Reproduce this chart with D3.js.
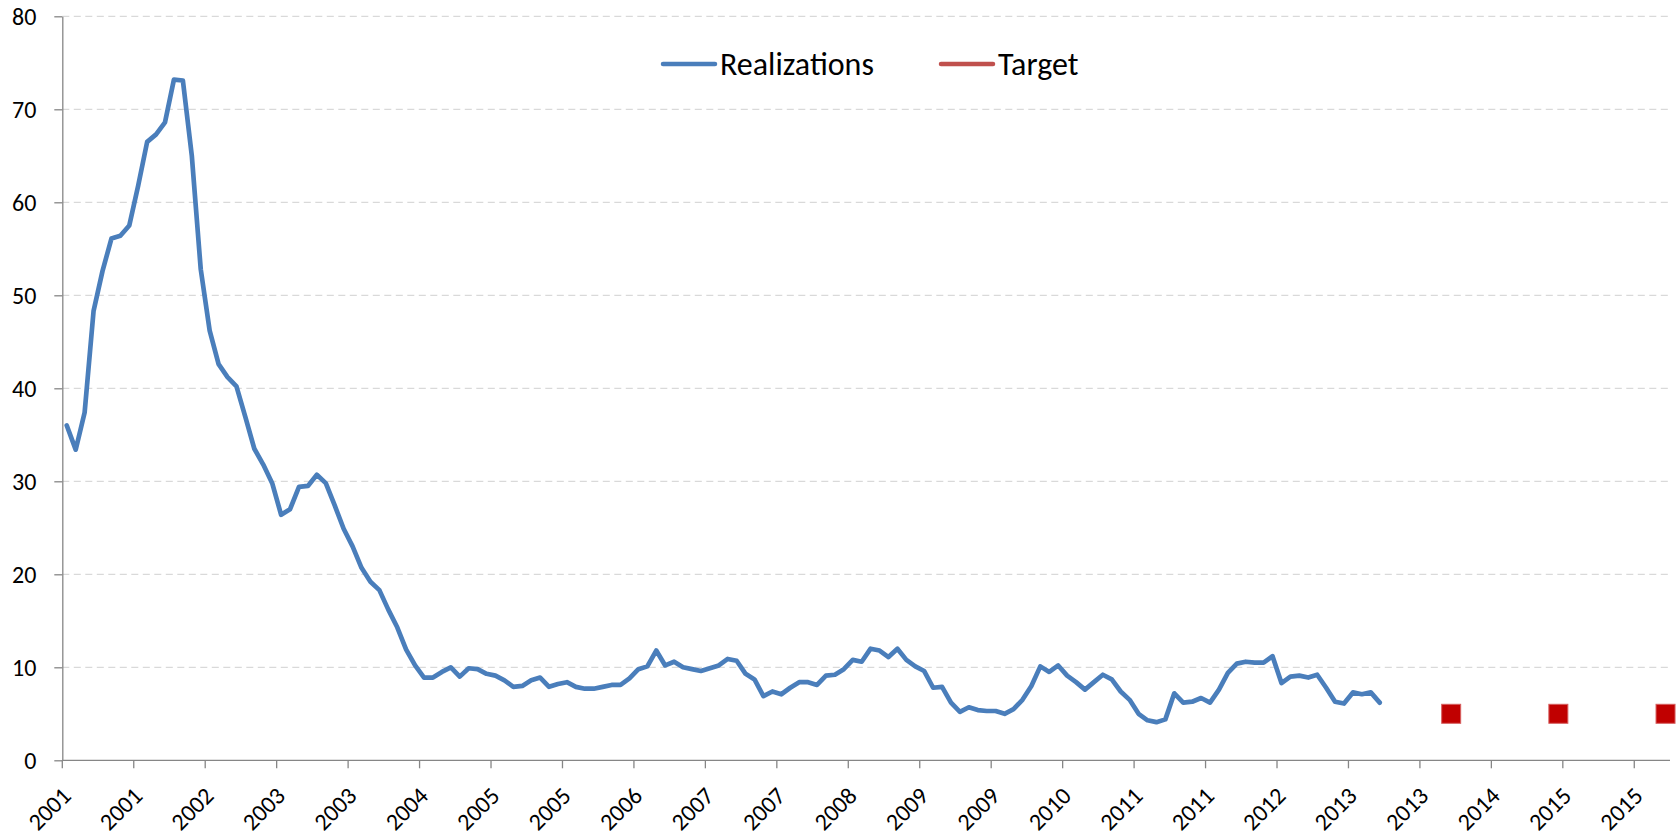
<!DOCTYPE html>
<html>
<head>
<meta charset="utf-8">
<script src="https://cdn.jsdelivr.net/npm/d3@7"></script>
<style>
  body { margin: 0; background: #fff; }
  svg, svg text { font-family: Calibri, Carlito, Lato, sans-serif; }
</style>
</head>
<body>
<div class="chart"></div>
<script>
// monthly realizations, Jan 2001 .. Apr 2013
let realizations = [
  36.0, 33.4, 37.4, 48.3, 52.6, 56.1, 56.4, 57.5, 61.8, 66.5, 67.3, 68.6,
  73.2, 73.1, 65.0, 52.8, 46.2, 42.6, 41.2, 40.2, 36.9, 33.5, 31.8, 29.8,
  26.4, 27.0, 29.4, 29.5, 30.7, 29.8, 27.4, 24.9, 23.0, 20.7, 19.2, 18.3,
  16.2, 14.3, 11.9, 10.2, 8.9, 8.9, 9.5, 10.0, 9.0, 9.9, 9.8, 9.3,
  9.1, 8.6, 7.9, 8.0, 8.6, 8.9, 7.9, 8.2, 8.4, 7.9, 7.7, 7.7,
  7.9, 8.1, 8.1, 8.8, 9.8, 10.1, 11.8, 10.2, 10.6, 10.0, 9.8, 9.6,
  9.9, 10.2, 10.9, 10.7, 9.3, 8.7, 6.9, 7.4, 7.1, 7.8, 8.4, 8.4,
  8.1, 9.1, 9.2, 9.8, 10.8, 10.6, 12.0, 11.8, 11.1, 12.0, 10.8, 10.1,
  9.6, 7.8, 7.9, 6.2, 5.2, 5.7, 5.4, 5.3, 5.3, 5.0, 5.5, 6.5,
  8.0, 10.1, 9.5, 10.2, 9.1, 8.4, 7.6, 8.4, 9.2, 8.7, 7.4, 6.5,
  5.0, 4.3, 4.1, 4.4, 7.2, 6.2, 6.3, 6.7, 6.2, 7.6, 9.4, 10.4,
  10.6, 10.5, 10.5, 11.2, 8.3, 9.0, 9.1, 8.9, 9.2, 7.8, 6.3, 6.1,
  7.3, 7.1, 7.3, 6.2
];

let targetMonths = ["2013-12", "2014-12", "2015-12"];
let targetValues = [5, 5, 5];

let yTicks = [0, 10, 20, 30, 40, 50, 60, 70, 80];
let tickMonths = ["2001-01", "2001-09", "2002-05", "2003-01", "2003-09", "2004-05",
  "2005-01", "2005-09", "2006-05", "2007-01", "2007-09", "2008-05", "2009-01",
  "2009-09", "2010-05", "2011-01", "2011-09", "2012-05", "2013-01", "2013-09",
  "2014-05", "2015-01", "2015-09"];

let seriesNames = ["Realizations", "Target"];

// all months on the category axis, 2001-01 .. 2015-12
let months = [];
for (let y = 2001; y <= 2015; y++) {
  for (let m = 1; m <= 12; m++) months.push(y + "-" + String(m).padStart(2, "0"));
}

let svgW = 1680;
let svgH = 839;
let margin = { top: 16.3, right: 10, bottom: 78.7, left: 62.3 };
let height = svgH - margin.top - margin.bottom;
let font = "Calibri, Carlito, Lato, sans-serif";

let svg = d3.select(".chart").append("svg")
  .attr("width", svgW)
  .attr("height", svgH);

let x = d3.scaleBand()
  .domain(months)
  .range([margin.left, svgW - margin.right]);

let y = d3.scaleLinear()
  .domain([0, 80])
  .range([margin.top + height, margin.top]);

let blue = "#4a7ebb";
let axisCol = "#868686";

// gridlines
svg.append("g").selectAll("line")
  .data(yTicks.filter(d => d > 0))
  .enter().append("line")
  .attr("x1", margin.left)
  .attr("x2", svgW - margin.right)
  .attr("y1", d => y(d))
  .attr("y2", d => y(d))
  .attr("stroke", "#d9d9d9")
  .attr("stroke-width", 1.3)
  .attr("stroke-dasharray", "7,4.5");

// y axis
let yAxis = svg.append("g")
  .attr("transform", `translate(${margin.left},0)`)
  .call(d3.axisLeft(y).tickValues(yTicks).tickSize(8).tickPadding(18).tickSizeOuter(0))
  .attr("font-family", font)
  .attr("font-size", 24);
yAxis.select(".domain").attr("stroke", axisCol).attr("stroke-width", 1.3);
yAxis.selectAll(".tick line").attr("stroke", axisCol).attr("stroke-width", 1.3);
yAxis.selectAll("text")
  .attr("fill", "#000")
  .attr("dy", "0.34em");

// x axis
let xAxisG = svg.append("g")
  .attr("transform", `translate(0,${y(0)})`)
  .attr("font-family", font)
  .attr("font-size", 24);
xAxisG.append("line")
  .attr("x1", margin.left)
  .attr("x2", svgW - margin.right)
  .attr("stroke", axisCol)
  .attr("stroke-width", 1.3);
xAxisG.selectAll(".xt")
  .data(tickMonths)
  .enter().append("line")
  .attr("class", "xt")
  .attr("x1", d => x(d))
  .attr("x2", d => x(d))
  .attr("y1", 0)
  .attr("y2", 8)
  .attr("stroke", axisCol)
  .attr("stroke-width", 1.3);
// rotated labels, end of text just right of the tick
xAxisG.selectAll(".xl")
  .data(tickMonths)
  .enter().append("text")
  .attr("class", "xl")
  .attr("transform", d => `translate(${x(d) + 10},${37}) rotate(-45)`)
  .attr("text-anchor", "end")
  .text(d => d.slice(0, 4));

// realizations line
let line = d3.line()
  .x((d, i) => x(months[i]) + x.bandwidth() / 2)
  .y(d => y(d));

svg.append("path")
  .datum(realizations)
  .attr("d", line)
  .attr("fill", "none")
  .attr("stroke", blue)
  .attr("stroke-width", 4.7)
  .attr("stroke-linejoin", "round")
  .attr("stroke-linecap", "round");

// target markers
svg.append("g").selectAll("rect")
  .data(targetValues)
  .enter().append("rect")
  .attr("x", (d, i) => x(targetMonths[i]) + x.bandwidth() / 2 - 9.5)
  .attr("y", d => y(d) - 9.5)
  .attr("width", 19)
  .attr("height", 19)
  .attr("fill", "#c00000")
  .attr("stroke", "#d65f5f")
  .attr("stroke-width", 1);

// legend
let legendItems = [
  { name: seriesNames[0], color: blue, x: 663 },
  { name: seriesNames[1], color: "#c0504d", x: 941 }
];
let legend = svg.append("g")
  .attr("transform", "translate(0,64)")
  .attr("font-family", font)
  .attr("font-size", 32);
legend.selectAll("line")
  .data(legendItems)
  .enter().append("line")
  .attr("x1", d => d.x)
  .attr("x2", d => d.x + 52)
  .attr("stroke", d => d.color)
  .attr("stroke-width", 4.5)
  .attr("stroke-linecap", "round");
legend.selectAll("text")
  .data(legendItems)
  .enter().append("text")
  .attr("x", d => d.x + 57)
  .attr("dy", "0.34em")
  .text(d => d.name);
</script>
</body>
</html>
